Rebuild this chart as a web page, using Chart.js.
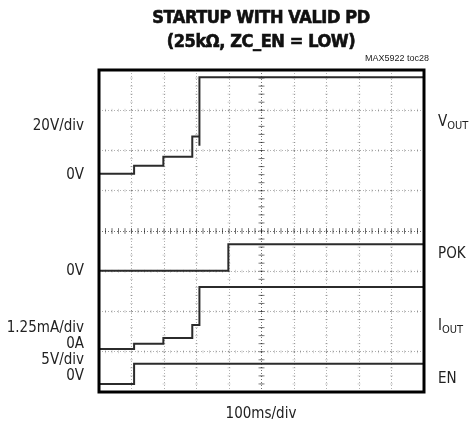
<!DOCTYPE html>
<html>
<head>
<meta charset="utf-8">
<script src="https://cdn.jsdelivr.net/npm/chart.js@4.4.0/dist/chart.umd.min.js"></script>
<style>
    body { margin: 0; background: #fff; }
    #wrap {
        position: relative; width: 469px; height: 430px; overflow: hidden;
        font-family: "DejaVu Sans Condensed", "DejaVu Sans", sans-serif; font-stretch: condensed; color: #222;
    }
    canvas { position: absolute; left: 0; top: 0; }
    .lbl { position: absolute; font-size: 15px; line-height: 15px; transform: translateY(-50%); white-space: nowrap; }
    .left { right: 385px; text-align: right; }
    .right { left: 438px; }
    .right sub { font-size: 11px; vertical-align: -3px; line-height: 0; }
    .title {
        position: absolute; left: 261px; transform: translate(-50%, -50%);
        font-size: 18px; font-weight: bold; white-space: nowrap; color: #111; letter-spacing: -0.4px;
        -webkit-text-stroke: 0.6px #111;
    }
    .toc { position: absolute; right: 40px; top: 53px; font-family: "Liberation Sans", sans-serif; font-stretch: normal; font-size: 9px; }
    .xdiv { position: absolute; left: 261px; top: 413px; transform: translate(-50%, -50%); font-size: 15px; }
</style>
</head>
<body>
<div id="wrap">
    <canvas id="scope" width="469" height="430"></canvas>
    <div class="title" style="top:16px">STARTUP WITH VALID PD</div>
    <div class="title" style="top:40px">(25kΩ, ZC_EN = LOW)</div>
    <div class="toc">MAX5922 toc28</div>

    <div class="lbl left" style="top:125px">20V/div</div>
    <div class="lbl left" style="top:174px">0V</div>
    <div class="lbl left" style="top:270px">0V</div>
    <div class="lbl left" style="top:327px">1.25mA/div</div>
    <div class="lbl left" style="top:343px">0A</div>
    <div class="lbl left" style="top:359px">5V/div</div>
    <div class="lbl left" style="top:375px">0V</div>

    <div class="lbl right" style="top:121px">V<sub>OUT</sub></div>
    <div class="lbl right" style="top:253px">POK</div>
    <div class="lbl right" style="top:325px">I<sub>OUT</sub></div>
    <div class="lbl right" style="top:378px">EN</div>

    <div class="xdiv">100ms/div</div>
</div>
<script>
// time axis: 100ms/div, 10 divisions; vertical: 8 divisions
const msPerDiv = 100;
const xDivs = 10;
const yDivs = 8;

// traces (time in ms, values in the trace's own unit)
// VOUT has a short dip right before the final rise
const voutTimeMs = [0, 108, 198, 287, 309, 309, 1000];
const voutVolts = [0, 4, 8.5, 18.5, 14, 48, 48];

const pokTimeMs = [0, 398, 1000];
const pokVolts = [0, 3.3, 3.3];

const ioutTimeMs = [0, 108, 198, 287, 309, 1000];
const ioutMilliamps = [0, 0.16, 0.34, 0.74, 1.92, 1.92];

const enTimeMs = [0, 108, 1000];
const enVolts = [0, 2.5, 2.5];

// per-trace scale (unit/div) and ground level (div from bottom)
const voutPerDiv = 20, voutZero = 5.42;
const pokPerDiv = 5, pokZero = 3.01;
const ioutPerDiv = 1.25, ioutZero = 1.07;
const enPerDiv = 5, enZero = 0.2;

const toPoints = (times, vals, zero, perDiv) =>
    times.map((t, i) => ({ x: t, y: zero + vals[i] / perDiv }));

const trace = (data) => ({
    data,
    stepped: true,
    borderColor: '#2b2b2b',
    borderWidth: 2,
    pointRadius: 0,
    fill: false,
});

const scopeGrid = {
    id: 'scopeGrid',
    beforeDatasetsDraw(chart) {
        const { ctx, scales: { x, y } } = chart;
        const cx = x.getPixelForValue(msPerDiv * xDivs / 2);
        const cy = y.getPixelForValue(yDivs / 2);
        ctx.save();
        ctx.lineWidth = 1;
        // light subdivision marks on every grid line
        ctx.strokeStyle = 'rgba(0,0,0,0.18)';
        ctx.beginPath();
        for (let g = 1; g < xDivs; g++) {
            const gx = x.getPixelForValue(g * msPerDiv);
            for (let k = 1; k < yDivs * 5; k++) {
                const py = y.getPixelForValue(k / 5);
                ctx.moveTo(gx - 1.5, py); ctx.lineTo(gx + 1.5, py);
            }
        }
        for (let g = 1; g < yDivs; g++) {
            const gy = y.getPixelForValue(g);
            for (let k = 1; k < xDivs * 5; k++) {
                const px = x.getPixelForValue(k * msPerDiv / 5);
                ctx.moveTo(px, gy - 1.5); ctx.lineTo(px, gy + 1.5);
            }
        }
        ctx.stroke();
        // bigger marks on centre cross
        ctx.strokeStyle = 'rgba(0,0,0,0.5)';
        ctx.beginPath();
        for (let k = 1; k < xDivs * 5; k++) {
            const px = x.getPixelForValue(k * msPerDiv / 5);
            ctx.moveTo(px, cy - 3); ctx.lineTo(px, cy + 3);
        }
        for (let k = 1; k < yDivs * 5; k++) {
            const py = y.getPixelForValue(k / 5);
            ctx.moveTo(cx - 3, py); ctx.lineTo(cx + 3, py);
        }
        ctx.stroke();
        ctx.restore();
    },
    afterDraw(chart) {
        const { ctx, chartArea: a } = chart;
        ctx.save();
        ctx.strokeStyle = '#000';
        ctx.lineWidth = 3;
        ctx.strokeRect(a.left, a.top, a.right - a.left, a.bottom - a.top);
        ctx.restore();
    },
};

const gridColor = (centre) => (c) => (c.tick && c.tick.value === centre ? 'rgba(0,0,0,0.55)' : 'rgba(0,0,0,0.3)');

new Chart(document.getElementById('scope'), {
    type: 'line',
    data: {
        datasets: [
            trace(toPoints(voutTimeMs, voutVolts, voutZero, voutPerDiv)),
            trace(toPoints(pokTimeMs, pokVolts, pokZero, pokPerDiv)),
            trace(toPoints(ioutTimeMs, ioutMilliamps, ioutZero, ioutPerDiv)),
            trace(toPoints(enTimeMs, enVolts, enZero, enPerDiv)),
        ],
    },
    options: {
        responsive: false,
        animation: false,
        devicePixelRatio: 1,
        layout: { padding: { left: 99, right: 45, top: 70, bottom: 38 } },
        plugins: { legend: { display: false }, tooltip: { enabled: false } },
        scales: {
            x: {
                type: 'linear', min: 0, max: msPerDiv * xDivs,
                ticks: { display: false, stepSize: msPerDiv },
                grid: { drawTicks: false, color: gridColor(msPerDiv * xDivs / 2) },
                border: { display: false, dash: [1, 2] },
            },
            y: {
                type: 'linear', min: 0, max: yDivs,
                ticks: { display: false, stepSize: 1 },
                grid: { drawTicks: false, color: gridColor(yDivs / 2) },
                border: { display: false, dash: [1, 2] },
            },
        },
    },
    plugins: [scopeGrid],
});
</script>
</body>
</html>
